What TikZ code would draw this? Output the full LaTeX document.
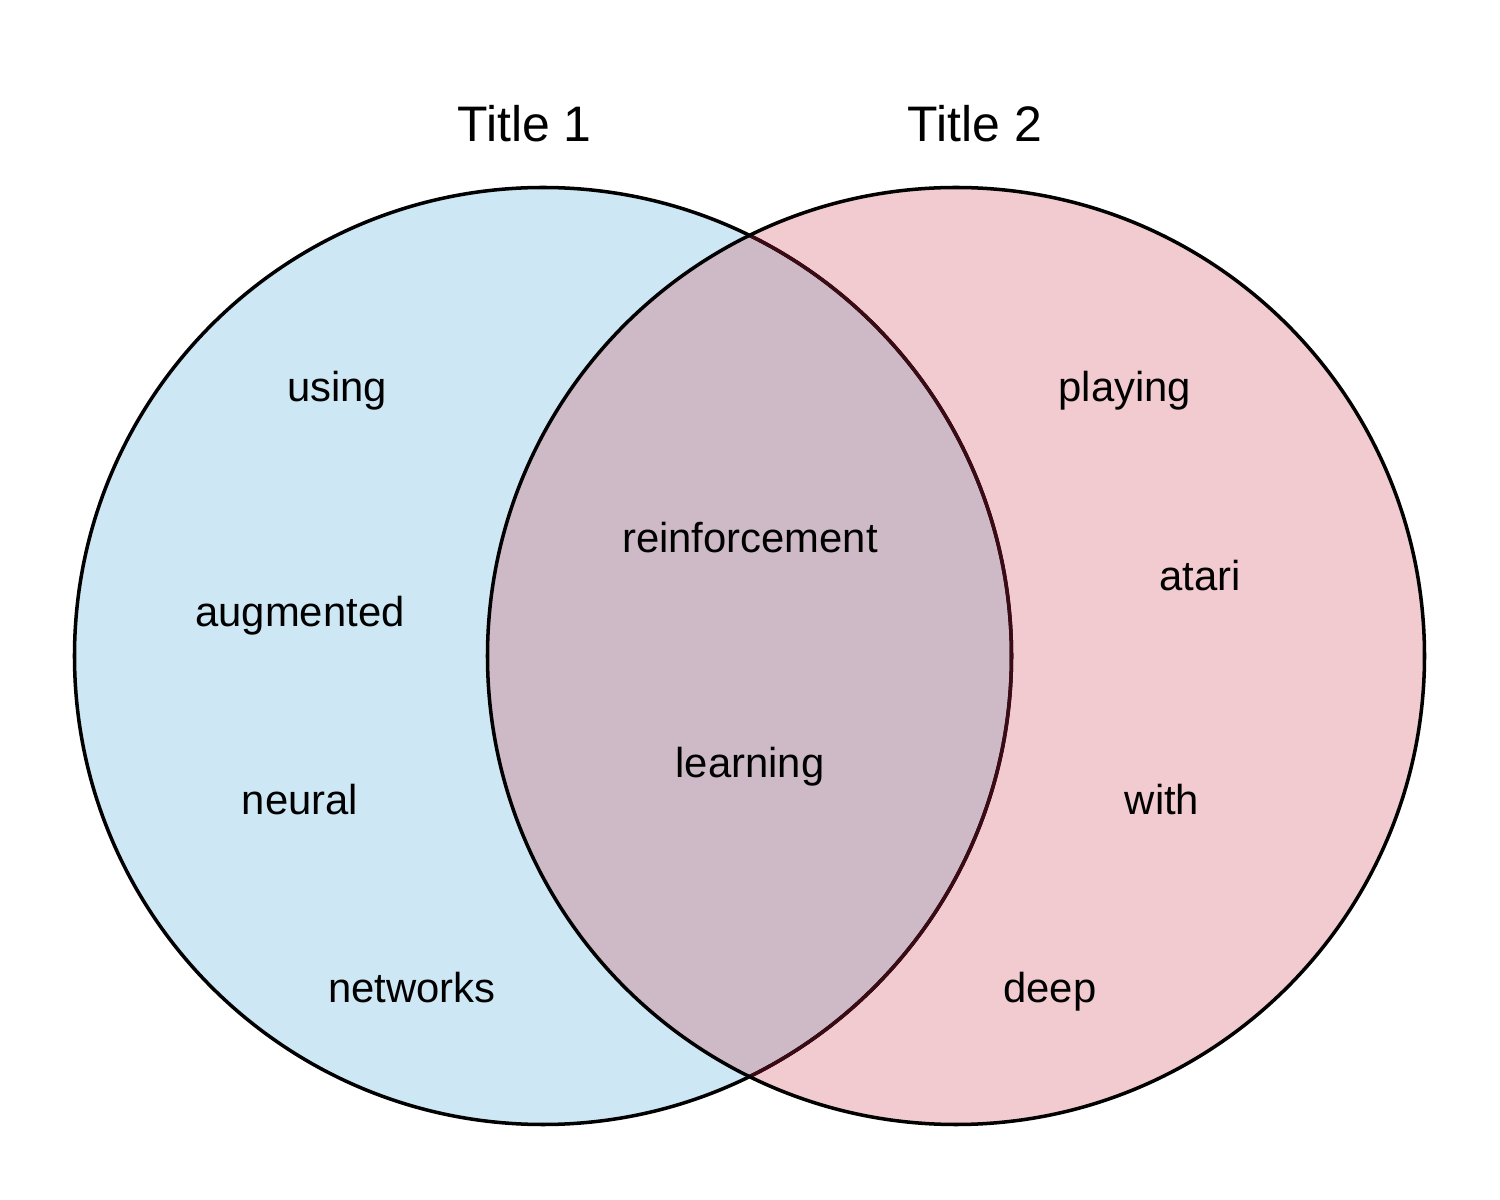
\documentclass[tikz,border=0pt]{standalone}
\usepackage{fontspec}
\setmainfont{Liberation Sans}
\usetikzlibrary{positioning}
\definecolor{setA}{RGB}{205,232,244}
\definecolor{setB}{RGB}{242,203,209}
\definecolor{setAB}{RGB}{205,186,198}
\definecolor{edgeAB}{RGB}{60,10,20}

\begin{document}
\begin{tikzpicture}[
    word/.style={anchor=base, font=\fontsize{11.9}{14}\selectfont},
    heading/.style={anchor=base, font=\fontsize{14.2}{17}\selectfont},
    ring/.style={line width=1pt}]
  \useasboundingbox (0,0) rectangle (15,12);
  \coordinate (A) at (5.43,5.44);
  \coordinate (B) at (9.56,5.44);
  % regions
  \fill[setA] (A) circle (4.685);
  \fill[setB] (B) circle (4.685);
  \begin{scope}
    \clip (A) circle (4.685);
    \fill[setAB] (B) circle (4.685);
  \end{scope}
  % outlines
  \draw[ring] (A) circle (4.685);
  \begin{scope}
    \clip (B) circle (4.685);
    \draw[ring, edgeAB] (A) circle (4.685);
  \end{scope}
  \draw[ring] (B) circle (4.685);
  % titles
  \node[heading] (t1) at (5.245,10.58) {Title 1};
  \node[heading] (t2) at (9.75,10.58) {Title 2};
  % words
  \node[word] (using) at (3.37,7.98) {using};
  \node[word] (augmented) at (3.00,5.73) {augmented};
  \node[word] (neural) at (3.00,3.85) {neural};
  \node[word] (networks) at (4.12,1.97) {networks};
  \node[word] (reinforcement) at (7.50,6.47) {reinforcement};
  \node[word] (learning) at (7.50,4.22) {learning};
  \node[word] (playing) at (11.25,7.98) {playing};
  \node[word] (atari) at (12.00,6.09) {atari};
  \node[word] (with) at (11.62,3.85) {with};
  \node[word] (deep) at (10.50,1.97) {deep};
\end{tikzpicture}
\end{document}
